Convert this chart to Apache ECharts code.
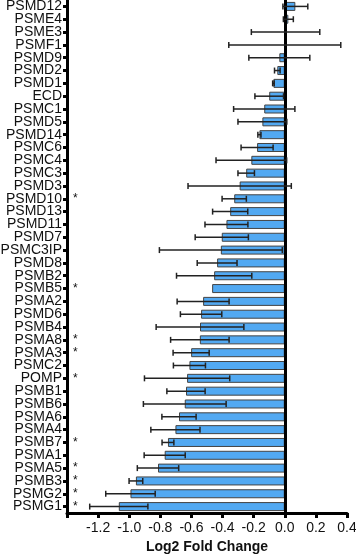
<!DOCTYPE html>
<html>
<head>
<meta charset="utf-8">
<style>
  html, body { margin: 0; padding: 0; background: #fff; }
  #chart { width: 356px; height: 557px; }
</style>
<script src="https://cdn.jsdelivr.net/npm/echarts@6/dist/echarts.min.js"></script>
</head>
<body>
<div id="chart"></div>
<script>
var genes = ['PSMD12', 'PSME4', 'PSME3', 'PSMF1', 'PSMD9', 'PSMD2', 'PSMD1', 'ECD', 'PSMC1', 'PSMD5',
    'PSMD14', 'PSMC6', 'PSMC4', 'PSMC3', 'PSMD3', 'PSMD10', 'PSMD13', 'PSMD11', 'PSMD7', 'PSMC3IP',
    'PSMD8', 'PSMB2', 'PSMB5', 'PSMA2', 'PSMD6', 'PSMB4', 'PSMA8', 'PSMA3', 'PSMC2', 'POMP',
    'PSMB1', 'PSMB6', 'PSMA6', 'PSMA4', 'PSMB7', 'PSMA1', 'PSMA5', 'PSMB3', 'PSMG2', 'PSMG1'];
var foldChange = [0.068, 0.023, 0.005, 0.0, -0.035, -0.048, -0.073, -0.1, -0.132, -0.144,
    -0.163, -0.178, -0.215, -0.248, -0.29, -0.325, -0.351, -0.375, -0.405, -0.411,
    -0.435, -0.454, -0.467, -0.525, -0.538, -0.545, -0.546, -0.602, -0.613, -0.628,
    -0.635, -0.643, -0.68, -0.703, -0.751, -0.772, -0.815, -0.957, -0.992, -1.067];
var errors = [0.08, 0.032, 0.22, 0.36, 0.196, 0.018, 0.005, 0.092, 0.197, 0.157,
    0.01, 0.103, 0.227, 0.053, 0.332, 0.078, 0.113, 0.138, 0.171, 0.395,
    0.128, 0.242, 0, 0.167, 0.133, 0.282, 0.188, 0.116, 0.103, 0.274,
    0.123, 0.266, 0.11, 0.158, 0.038, 0.132, 0.133, 0.044, 0.159, 0.187];
var significant = ['PSMD10', 'PSMB5', 'PSMA8', 'PSMA3', 'POMP', 'PSMB7', 'PSMA5', 'PSMB3', 'PSMG2', 'PSMG1'];
var xTicks = { min: -1.4, max: 0.4, step: 0.2 };

var errData = genes.map(function (g, i) {
    return [i, foldChange[i] - errors[i], foldChange[i] + errors[i]];
});

var myChart = echarts.init(document.getElementById('chart'));
var font = 'Liberation Sans';
var option = {
    animation: false,
    // outerBoundsMode none: keep the grid where it is even if the top label pokes out
    grid: { left: 67, right: 9, top: 0, bottom: 44, outerBoundsMode: 'none' },
    xAxis: {
        type: 'value',
        min: xTicks.min,
        max: xTicks.max,
        interval: xTicks.step,
        name: 'Log2 Fold Change',
        nameLocation: 'middle',
        nameGap: 27,
        nameTextStyle: { fontFamily: font, fontSize: 14, fontWeight: 'bold', color: '#111' },
        axisLine: { show: true, lineStyle: { color: '#000', width: 3 } },
        axisTick: { show: true, length: 5, lineStyle: { color: '#000', width: 3 } },
        axisLabel: {
            fontFamily: font, fontSize: 14, color: '#111', margin: 8,
            formatter: function (v) {
                if (v < xTicks.min + 0.05) return '';
                return v.toFixed(1);
            }
        },
        splitLine: { show: false }
    },
    yAxis: [{
        type: 'category',
        data: genes,
        inverse: true,
        axisLine: { show: true, onZero: false, lineStyle: { color: '#000', width: 3 } },
        axisTick: { show: true, alignWithLabel: true, length: 4, lineStyle: { color: '#000', width: 3 } },
        axisLabel: { fontFamily: font, fontSize: 14, color: '#111', margin: 5, interval: 0 }
    }, {
        // asterisks for significant genes, drawn just inside the left axis
        type: 'category',
        data: genes,
        inverse: true,
        position: 'left',
        axisLine: { show: false },
        axisTick: { show: false },
        axisLabel: {
            inside: true, margin: 6, interval: 0,
            fontFamily: font, fontSize: 12, color: '#111',
            formatter: function (g) { return significant.indexOf(g) >= 0 ? '*' : ''; }
        }
    }],
    series: [{
        type: 'bar',
        data: foldChange,
        barWidth: 9,
        itemStyle: { color: '#52a9f2', borderColor: '#444', borderWidth: 1 },
        markLine: {
            silent: true,
            symbol: 'none',
            label: { show: false },
            lineStyle: { color: '#000', width: 3, type: 'solid' },
            data: [{ xAxis: 0 }]
        }
    }, {
        type: 'custom',
        data: errData,
        z: 5,
        renderItem: function (params, api) {
            var lo = api.coord([api.value(1), api.value(0)]);
            var hi = api.coord([api.value(2), api.value(0)]);
            if (Math.abs(hi[0] - lo[0]) < 1) return null;
            var h = 3;
            var style = { stroke: '#222', lineWidth: 1.5 };
            return {
                type: 'group',
                children: [
                    { type: 'line', shape: { x1: lo[0], y1: lo[1], x2: hi[0], y2: hi[1] }, style: style },
                    { type: 'line', shape: { x1: lo[0], y1: lo[1] - h, x2: lo[0], y2: lo[1] + h }, style: style },
                    { type: 'line', shape: { x1: hi[0], y1: hi[1] - h, x2: hi[0], y2: hi[1] + h }, style: style }
                ]
            };
        }
    }]
};
myChart.setOption(option);
window.onresize = myChart.resize;
</script>
</body>
</html>
